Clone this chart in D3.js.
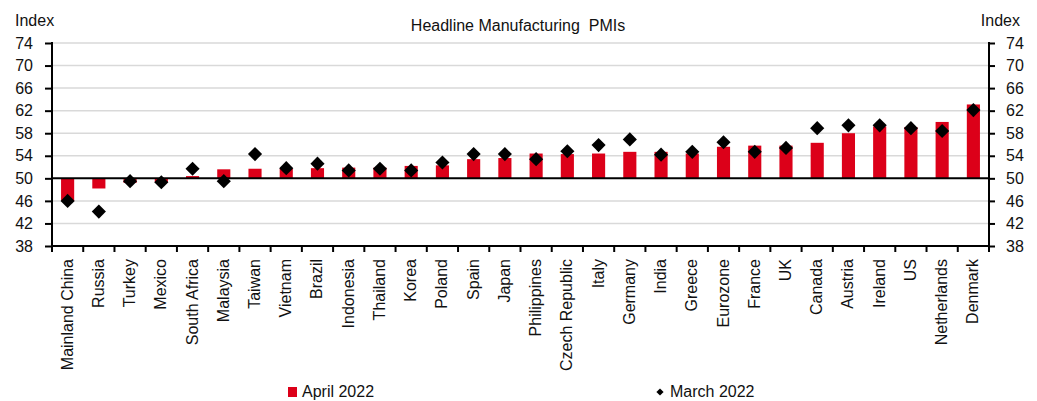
<!DOCTYPE html>
<html>
<head>
<meta charset="utf-8">
<script src="https://cdn.jsdelivr.net/npm/d3@7"></script>
<style>
  html, body { margin: 0; padding: 0; background: #fff; }
  svg { display: block; font-family: "Liberation Sans", Arial, sans-serif; }
</style>
</head>
<body>
<svg id="chart" width="1037" height="401"></svg>
<script>
// Headline manufacturing PMIs by economy
const categories = ["Mainland China","Russia","Turkey","Mexico","South Africa","Malaysia","Taiwan","Vietnam","Brazil","Indonesia","Thailand","Korea","Poland","Spain","Japan","Philippines","Czech Republic","Italy","Germany","India","Greece","Eurozone","France","UK","Canada","Austria","Ireland","US","Netherlands","Denmark"];
const april2022 = [46.0, 48.2, 49.2, 49.3, 50.4, 51.6, 51.7, 51.7, 51.8, 51.9, 51.9, 52.2, 52.3, 53.4, 53.6, 54.4, 54.3, 54.4, 54.7, 54.7, 54.4, 55.6, 55.8, 55.8, 56.3, 58.0, 59.2, 59.1, 60.0, 63.1];
const march2022 = [46.0, 44.1, 49.5, 49.3, 51.7, 49.5, 54.3, 51.8, 52.6, 51.4, 51.7, 51.4, 52.8, 54.3, 54.3, 53.4, 54.8, 55.9, 56.9, 54.2, 54.7, 56.4, 54.7, 55.4, 58.9, 59.4, 59.4, 58.9, 58.4, 62.1];
const yTicks = [38, 42, 46, 50, 54, 58, 62, 66, 70, 74];
const seriesNames = ["April 2022", "March 2022"];

const RED = "#dc0019";
const svg = d3.select("#chart");
const plotL = 52, plotR = 989, plotT = 43, plotB = 246;

const x = d3.scaleBand().domain(categories).range([plotL, plotR]).padding(0);
const y = d3.scaleLinear().domain([38, 74]).range([plotB, plotT]);

// gridlines
svg.append("g")
  .selectAll("line")
  .data(yTicks.filter(t => t !== 38 && t !== 50))
  .join("line")
  .attr("x1", plotL).attr("x2", plotR)
  .attr("y1", d => y(d)).attr("y2", d => y(d))
  .attr("stroke", "#d9d9d9").attr("stroke-width", 1.5);

// bars from the 50 line
const barW = x.bandwidth() * 0.42;
svg.append("g")
  .selectAll("rect")
  .data(categories.map((c, i) => ({c, v: april2022[i]})))
  .join("rect")
  .attr("x", d => x(d.c) + (x.bandwidth() - barW) / 2)
  .attr("width", barW)
  .attr("y", d => y(Math.max(50, d.v)))
  .attr("height", d => Math.abs(y(d.v) - y(50)))
  .attr("fill", RED);

// 50 reference line
svg.append("line")
  .attr("x1", plotL).attr("x2", plotR)
  .attr("y1", y(50)).attr("y2", y(50))
  .attr("stroke", "#000").attr("stroke-width", 2);

// diamonds for March
const diamond = d3.symbol(d3.symbolSquare, 100);
svg.append("g")
  .selectAll("path")
  .data(categories.map((c, i) => ({c, v: march2022[i]})))
  .join("path")
  .attr("d", diamond)
  .attr("transform", d => `translate(${x(d.c) + x.bandwidth() / 2},${y(d.v)}) rotate(45)`)
  .attr("fill", "#000");

// left axis
const yAxisL = d3.axisLeft(y).tickValues(yTicks).tickSize(7).tickPadding(12);
const gL = svg.append("g").attr("transform", `translate(${plotL},0)`).call(yAxisL);
// right axis
const yAxisR = d3.axisRight(y).tickValues(yTicks).tickSize(6).tickPadding(11);
const gR = svg.append("g").attr("transform", `translate(${plotR},0)`).call(yAxisR);
// bottom axis with ticks between categories
const gB = svg.append("g").attr("transform", `translate(0,${plotB})`);
gB.append("line").attr("x1", plotL).attr("x2", plotR).attr("y1", 0).attr("y2", 0)
  .attr("stroke", "#000").attr("stroke-width", 2);
gB.selectAll("line.tk")
  .data(d3.range(categories.length + 1))
  .join("line").attr("class", "tk")
  .attr("x1", i => plotL + i * x.step()).attr("x2", i => plotL + i * x.step())
  .attr("y1", 0).attr("y2", 6)
  .attr("stroke", "#000").attr("stroke-width", 2);
gB.selectAll("text")
  .data(categories)
  .join("text")
  .attr("transform", d => `translate(${x(d) + x.bandwidth() / 2 + 5},13) rotate(-90)`)
  .attr("text-anchor", "end")
  .attr("font-size", 16)
  .attr("fill", "#111")
  .text(d => d);

[gL, gR].forEach(g => {
  g.select(".domain").attr("stroke", "#000").attr("stroke-width", 2);
  g.selectAll(".tick line").attr("stroke", "#000").attr("stroke-width", 2);
  g.selectAll(".tick text").attr("font-size", 16).attr("fill", "#111")
    .attr("font-family", "Liberation Sans, Arial, sans-serif");
});
gL.select(".domain").attr("d", `M0,${plotT - 1}V${plotB + 1}`);
gR.select(".domain").attr("d", `M0,${plotT - 1}V${plotB + 1}`);

// titles
svg.append("text").attr("x", 518).attr("y", 31).attr("text-anchor", "middle")
  .attr("font-size", 16).attr("fill", "#111").text("Headline Manufacturing\u00a0 PMIs");
svg.append("text").attr("x", 15).attr("y", 26).attr("font-size", 16).attr("fill", "#111").text("Index");
svg.append("text").attr("x", 1020).attr("y", 26).attr("text-anchor", "end")
  .attr("font-size", 16).attr("fill", "#111").text("Index");

// legend
const lg = svg.append("g");
lg.append("rect").attr("x", 288).attr("y", 387).attr("width", 9).attr("height", 10).attr("fill", RED);
lg.append("text").attr("x", 302).attr("y", 397).attr("font-size", 16).attr("fill", "#111").text(seriesNames[0]);
lg.append("path").attr("d", d3.symbol(d3.symbolSquare, 26))
  .attr("transform", "translate(660,392) rotate(45)").attr("fill", "#000");
lg.append("text").attr("x", 670).attr("y", 397).attr("font-size", 16).attr("fill", "#111").text(seriesNames[1]);
</script>
</body>
</html>
